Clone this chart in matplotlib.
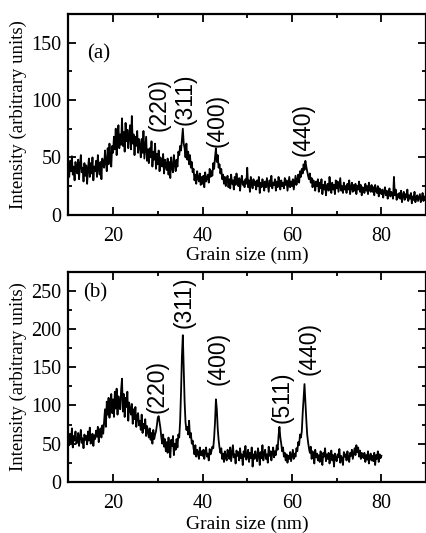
import numpy as np
import matplotlib
matplotlib.use("Agg")
import matplotlib.pyplot as plt
from matplotlib.ticker import MultipleLocator

# Sample (a): intensity sampled every 0.2 nm from 10 to 90 nm
x_a_start, x_a_step = 10.0, 0.2
intensity_a = [
    44, 33, 47, 38, 51, 35, 42, 30, 46, 39,
    36, 48, 31, 44, 52, 37, 41, 29, 45, 34,
    43, 27, 40, 49, 33, 45, 36, 50, 30, 42,
    38, 47, 33, 52, 40, 35, 46, 31, 49, 43,
    41, 56, 46, 38, 58, 44, 62, 50, 42, 60,
    54, 68, 57, 75, 52, 66, 78, 58, 70, 61,
    84, 60, 72, 55, 80, 64, 74, 58, 69, 78,
    57, 86, 62, 70, 52, 68, 60, 73, 54, 66,
    61, 50, 66, 54, 73, 49, 59, 68, 47, 57,
    45, 58, 50, 64, 42, 55, 48, 62, 40, 53,
    44, 56, 38, 50, 45, 42, 53, 36, 48, 43,
    39, 49, 35, 46, 32, 50, 41, 37, 52, 44,
    38, 48, 42, 55, 52, 60, 56, 66, 75, 62,
    58, 50, 62, 48, 55, 44, 52, 41, 46, 37,
    40, 30, 35, 27, 38, 32, 29, 36, 26, 33,
    27, 34, 24, 37, 29, 32, 35, 28, 40, 33,
    38, 34, 45, 40, 50, 58, 46, 52, 41, 44,
    36, 40, 31, 35, 27, 33, 25, 30, 34, 24,
    31, 23, 35, 27, 30, 22, 33, 26, 36, 29,
    25, 32, 21, 30, 34, 26, 29, 24, 31, 27,
    41, 24, 30, 20, 33, 27, 23, 31, 26, 29,
    22, 30, 25, 33, 19, 28, 24, 31, 27, 21,
    29, 24, 32, 26, 20, 30, 25, 34, 23, 28,
    26, 31, 21, 29, 24, 33, 27, 22, 30, 25,
    28, 23, 32, 26, 30, 21, 27, 33, 24, 29,
    25, 31, 22, 28, 34, 26, 30, 35, 28, 38,
    33, 40, 36, 44, 39, 47, 42, 38, 34, 31,
    36, 28, 32, 24, 30, 27, 21, 29, 25, 31,
    20, 28, 23, 31, 18, 26, 22, 29, 17, 25,
    27, 21, 33, 24, 19, 28, 22, 26, 18, 30,
    23, 29, 20, 26, 32, 21, 25, 19, 28, 22,
    25, 19, 27, 22, 30, 18, 24, 28, 20, 26,
    21, 27, 18, 25, 22, 29, 20, 26, 17, 24,
    23, 19, 27, 21, 25, 18, 28, 22, 20, 26,
    20, 24, 17, 26, 21, 19, 25, 16, 23, 20,
    18, 22, 15, 20, 24, 17, 21, 14, 19, 23,
    16, 20, 18, 14, 33, 17, 22, 13, 18, 15,
    19, 14, 21, 11, 17, 20, 13, 18, 15, 22,
    12, 17, 14, 19, 10, 16, 13, 20, 11, 15,
    17, 12, 15, 18, 11, 14, 19, 12, 16, 13,
    14,
]

# Sample (b): intensity sampled every 0.2 nm from 10 to 80 nm
x_b_start, x_b_step = 10.0, 0.2
intensity_b = [
    58, 48, 63, 52, 70, 45, 60, 54, 66, 50,
    53, 64, 47, 59, 68, 51, 57, 44, 62, 55,
    60, 49, 66, 54, 71, 50, 58, 63, 47, 61,
    56, 67, 59, 72, 52, 65, 70, 58, 74, 63,
    80, 95, 72, 105, 88, 110, 84, 98, 115, 90,
    108, 85, 118, 96, 122, 88, 112, 100, 95, 120,
    135, 92, 115, 85, 110, 98, 118, 80, 104, 95,
    88, 102, 76, 95, 82, 98, 72, 86, 90, 74,
    80, 68, 88, 64, 76, 70, 82, 60, 73, 66,
    58, 70, 55, 64, 50, 68, 56, 62, 66, 74,
    84, 86, 78, 70, 58, 50, 62, 46, 56, 40,
    52, 38, 58, 44, 32, 55, 47, 60, 35, 50,
    42, 56, 45, 62, 58, 80, 118, 165, 192, 150,
    105, 78, 68, 72, 62, 80, 58, 64, 50, 54,
    44, 36, 48, 33, 42, 38, 30, 45, 35, 40,
    34, 42, 30, 39, 45, 33, 37, 28, 43, 36,
    40, 46, 44, 58, 78, 108, 95, 70, 55, 45,
    38, 44, 30, 37, 26, 40, 33, 28, 42, 35,
    30, 45, 27, 38, 48, 32, 36, 24, 41, 34,
    39, 28, 44, 31, 36, 22, 40, 33, 47, 29,
    35, 42, 26, 38, 31, 45, 20, 36, 30, 40,
    33, 27, 44, 36, 22, 39, 31, 48, 28, 37,
    42, 30, 36, 25, 46, 34, 40, 28, 38, 45,
    32, 40, 35, 48, 42, 60, 72, 58, 50, 40,
    45, 33, 38, 28, 36, 25, 34, 30, 39, 27,
    35, 42, 30, 37, 33, 44, 40, 52, 48, 62,
    58, 66, 90, 110, 128, 105, 82, 62, 52, 44,
    38, 46, 30, 40, 35, 24, 42, 32, 37, 28,
    35, 26, 40, 30, 22, 38, 33, 44, 27, 36,
    30, 38, 24, 34, 41, 28, 35, 20, 37, 31,
    27, 36, 32, 43, 25, 34, 30, 22, 39, 33,
    36, 28, 40, 31, 26, 38, 34, 42, 30, 37,
    44, 35, 48, 39, 45, 33, 41, 30, 38, 34,
    31, 38, 26, 35, 29, 40, 24, 33, 37, 28,
    34, 27, 38, 22, 35, 30, 40, 26, 36, 31,
    34,
]

# Reflection labels: (text, x position, y of label base)
peaks_a = ["(220)", "(311)", "(400)", "(440)"]
peaks_a_x = [30.2, 36.2, 43.2, 62.5]
peaks_a_y = [73, 78, 59, 51]

peaks_b = ["(220)", "(311)", "(400)", "(511)", "(440)"]
peaks_b_x = [29.8, 36.0, 43.5, 57.8, 63.8]
peaks_b_y = [90, 201, 127, 77, 140]

x_ticks = [20, 40, 60, 80]

serif = ["Liberation Serif", "DejaVu Serif"]
sans = ["Liberation Sans", "DejaVu Sans"]

fig = plt.figure(figsize=(4.27, 5.33), dpi=100)
ax_a = fig.add_axes([0.160, 0.597, 0.838, 0.377])
ax_b = fig.add_axes([0.160, 0.096, 0.838, 0.394])


def style(ax, ymax, ymajor, yminor, xlabelpad):
    ax.set_xlim(10, 90)
    ax.set_ylim(0, ymax)
    ax.set_xticks(x_ticks)
    ax.xaxis.set_minor_locator(MultipleLocator(10))
    ax.yaxis.set_major_locator(MultipleLocator(ymajor))
    ax.yaxis.set_minor_locator(MultipleLocator(yminor))
    ax.tick_params(which="both", direction="in", top=True, right=True,
                   width=1.3, labelsize=14.5)
    ax.tick_params(axis="x", pad=9)
    ax.tick_params(axis="y", pad=5)
    ax.tick_params(which="major", length=6)
    ax.tick_params(which="minor", length=3)
    for lab in ax.get_xticklabels() + ax.get_yticklabels():
        lab.set_family(serif)
    for s in ax.spines.values():
        s.set_linewidth(1.6)
    ax.set_xlabel("Grain size (nm)", family=serif, fontsize=14,
                  labelpad=xlabelpad)
    ax.set_ylabel("Intensity (arbitrary units)", family=serif, fontsize=13.5,
                  labelpad=3)


x_a = x_a_start + x_a_step * np.arange(len(intensity_a))
x_b = x_b_start + x_b_step * np.arange(len(intensity_b))

ax_a.plot(x_a, intensity_a, color="black", lw=1.3)
style(ax_a, 175, 50, 25, 0)
ax_a.text(14.2, 140, "(a)", family=serif, fontsize=15, va="center")
for t, px, py in zip(peaks_a, peaks_a_x, peaks_a_y):
    ax_a.text(px, py, t, family=sans, fontsize=16.5, rotation=90,
              ha="center", va="bottom")

ax_b.plot(x_b, intensity_b, color="black", lw=1.3)
style(ax_b, 275, 50, 25, 1.5)
ax_b.text(13.3, 247, "(b)", family=serif, fontsize=15, va="center")
for t, px, py in zip(peaks_b, peaks_b_x, peaks_b_y):
    ax_b.text(px, py, t, family=sans, fontsize=16.5, rotation=90,
              ha="center", va="bottom")

fig.savefig("out.png", dpi=100)
